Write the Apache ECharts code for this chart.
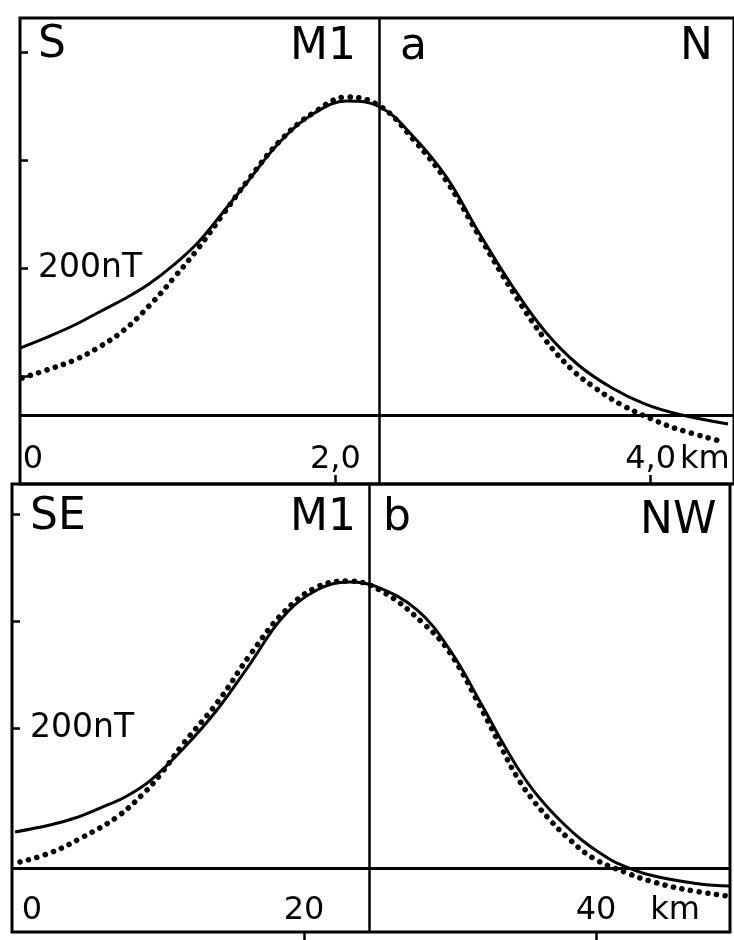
<!DOCTYPE html>
<html>
<head>
<meta charset="utf-8">
<script src="https://cdn.jsdelivr.net/npm/echarts@6/dist/echarts.min.js"></script>
<style>html,body{margin:0;padding:0;background:#fff}#c{width:734px;height:940px}</style>
</head>
<body>
<div id="c"></div>
<script>
// ---------- Panel a (S - N) ----------
const kmSolidA = [0.0, 1.89, 3.46, 5.03, 6.6, 8.18, 9.75, 11.32, 12.89, 14.47, 16.54, 18.68, 20.75, 22.83, 24.97, 27.04, 29.12, 31.26, 33.33, 35.41, 37.55, 39.62, 41.7, 44.9];
const nTSolidA = [125.9, 137, 147.2, 159.3, 171.3, 185.2, 202.8, 224.1, 251.9, 280.6, 317.6, 343.5, 354.6, 349.1, 321.3, 284.3, 232.4, 182.4, 140.7, 110.2, 88.9, 74.1, 64.8, 55.6];
const kmDotA = [0.13, 1.89, 3.46, 5.03, 6.6, 8.18, 9.75, 11.32, 12.89, 14.47, 16.54, 18.68, 20.75, 22.83, 24.97, 27.04, 29.12, 31.26, 33.33, 35.03, 36.48, 38.18, 40.06, 41.7, 44.65];
const nTDotA = [98.1, 106.5, 114.8, 126.9, 142.6, 164.8, 190.7, 218.5, 250, 281.5, 318.5, 344.4, 358.3, 350, 318.5, 280.6, 229.6, 177.8, 133.3, 105.6, 88.9, 73.1, 60.2, 50.9, 38.9];
const baseA = 64;        // horizontal reference line (nT)
const dividerA = 22.8;   // vertical line (km)
const yTicksA = [100, 200, 300, 400];
const xTicksA = [20, 40];
const xTickLabelsA = ['0', '2,0', '4,0'];

// ---------- Panel b (SE - NW) ----------
const kmSolidB = [0.21, 2.6, 4.32, 6.03, 7.74, 9.45, 11.71, 14.04, 16.3, 18.56, 20.89, 23.15, 25.0, 27.74, 30.0, 32.26, 33.42, 34.59, 35.68, 36.85, 38.01, 39.11, 40.27, 41.44, 43.7, 47.12, 49.15];
const nTSolidB = [102.8, 109.3, 115.9, 125.2, 135.5, 150.5, 180.4, 216.8, 259.8, 303.7, 329, 336.4, 331.8, 310.3, 272.9, 219.6, 190.7, 163.6, 142.1, 123.4, 107.5, 94.4, 83.2, 73.8, 62.6, 54.2, 52.3];
const kmDotB = [0.55, 2.6, 4.86, 7.19, 8.97, 10.14, 11.71, 14.04, 16.3, 18.56, 20.89, 23.15, 25.41, 28.15, 30.0, 32.26, 33.42, 34.59, 35.68, 36.85, 38.01, 39.79, 42.12, 43.7, 45.96, 48.97];
const nTDotB = [74.8, 83.2, 98.1, 116.8, 138.3, 156.1, 185, 223.4, 268.2, 307.5, 331.8, 337.4, 327.1, 298.1, 270.1, 215, 184.1, 154.2, 132.7, 114, 98.1, 78.5, 64.5, 57, 49.5, 43];
const baseB = 69;
const dividerB = 24.5;
const yTicksB = [200, 300, 400];
const xTicksB = [20, 40];
const xTickLabelsB = ['0', '20', '40'];

const yLabelText = '200nT';
const unitText = 'km';
const panelLabelsA = ['S', 'M1', 'a', 'N'];
const panelLabelsB = ['SE', 'M1', 'b', 'NW'];

const zip = (xs, ys) => xs.map((x, i) => [x, ys[i]]);
const FONT = '"DejaVu Sans", "Liberation Sans", sans-serif';

function xLabelFmt(ticks, labels) {
  return function (v) {
    const i = [0].concat(ticks).indexOf(v);
    const t = labels[i];
    return v === 0 ? '{z|' + t + '}' : t;
  };
}

const solidStyle = { color: '#000', width: 3 };
const dotStyle = { color: '#000', width: 5.5, type: [0.1, 8.6], cap: 'round' };
const mlStyle = { color: '#000', width: 3, type: 'solid' };

const chart = echarts.init(document.getElementById('c'), null, { renderer: 'canvas' });
chart.setOption({
  animation: false,
  backgroundColor: '#fff',
  grid: [
    { left: 20, top: 18, width: 720, height: 466, show: true, borderColor: '#000', borderWidth: 3, containLabel: false },
    { left: 12, top: 484, width: 718, height: 448, show: true, borderColor: '#000', borderWidth: 3, containLabel: false }
  ],
  xAxis: [
    {
      gridIndex: 0, type: 'value', min: 0, max: 720 / 15.9,
      axisLine: { show: false }, splitLine: { show: false },
      axisTick: { show: true, inside: true, length: 9, customValues: xTicksA, lineStyle: { color: '#000', width: 2.5 } },
      axisLabel: {
        inside: true, margin: 8, customValues: [0].concat(xTicksA), formatter: xLabelFmt(xTicksA, xTickLabelsA),
        color: '#000', fontSize: 32, fontFamily: FONT,
        rich: { z: { fontSize: 32, fontFamily: FONT, color: '#000', padding: [0, 0, 0, 26] } }
      },
      name: unitText, nameLocation: 'end', nameGap: -8,
      nameTextStyle: { color: '#000', fontSize: 32, fontFamily: FONT, align: 'right', verticalAlign: 'bottom', padding: [0, 0, 8, 0] }
    },
    {
      gridIndex: 1, type: 'value', min: 0, max: 718 / 14.6,
      axisLine: { show: false }, splitLine: { show: false },
      axisTick: { show: true, inside: false, length: 9, customValues: xTicksB, lineStyle: { color: '#000', width: 2.5 } },
      axisLabel: {
        inside: true, margin: 5, customValues: [0].concat(xTicksB), formatter: xLabelFmt(xTicksB, xTickLabelsB),
        color: '#000', fontSize: 32, fontFamily: FONT,
        rich: { z: { fontSize: 32, fontFamily: FONT, color: '#000', padding: [0, 0, 0, 40] } }
      },
      name: unitText, nameLocation: 'end', nameGap: -30,
      nameTextStyle: { color: '#000', fontSize: 32, fontFamily: FONT, align: 'right', verticalAlign: 'bottom', padding: [0, 0, 5, 0] }
    }
  ],
  yAxis: [
    {
      gridIndex: 0, type: 'value', min: 0, max: 466 / 1.08,
      axisLine: { show: false }, splitLine: { show: false },
      axisTick: { show: true, inside: true, length: 8, customValues: yTicksA, lineStyle: { color: '#000', width: 2.5 } },
      axisLabel: { inside: true, margin: 18, customValues: [200], formatter: () => yLabelText, color: '#000', fontSize: 33, fontFamily: FONT }
    },
    {
      gridIndex: 1, type: 'value', min: 200 - 204 / 1.07, max: 200 + 244 / 1.07,
      axisLine: { show: false }, splitLine: { show: false },
      axisTick: { show: true, inside: true, length: 8, customValues: yTicksB, lineStyle: { color: '#000', width: 2.5 } },
      axisLabel: { inside: true, margin: 18, customValues: [200], formatter: () => yLabelText, color: '#000', fontSize: 33, fontFamily: FONT }
    }
  ],
  series: [
    {
      type: 'line', xAxisIndex: 0, yAxisIndex: 0, data: zip(kmSolidA, nTSolidA), smooth: 0.4,
      showSymbol: false, lineStyle: solidStyle, silent: true,
      markLine: { silent: true, symbol: 'none', label: { show: false }, lineStyle: mlStyle,
        data: [{ yAxis: baseA }, { xAxis: dividerA, lineStyle: { width: 2.5 } }] }
    },
    {
      type: 'line', xAxisIndex: 0, yAxisIndex: 0, data: zip(kmDotA, nTDotA), smooth: 0.4,
      showSymbol: false, lineStyle: dotStyle, silent: true
    },
    {
      type: 'line', xAxisIndex: 1, yAxisIndex: 1, data: zip(kmSolidB, nTSolidB), smooth: 0.4,
      showSymbol: false, lineStyle: solidStyle, silent: true,
      markLine: { silent: true, symbol: 'none', label: { show: false }, lineStyle: mlStyle,
        data: [{ yAxis: baseB }, { xAxis: dividerB, lineStyle: { width: 2.5 } }] }
    },
    {
      type: 'line', xAxisIndex: 1, yAxisIndex: 1, data: zip(kmDotB, nTDotB), smooth: 0.4,
      showSymbol: false, lineStyle: dotStyle, silent: true
    }
  ],
  graphic: [
    { type: 'text', x: 38, y: 46, style: { text: panelLabelsA[0], font: '44px ' + FONT, fill: '#000', textVerticalAlign: 'middle' } },
    { type: 'text', x: 290, y: 48, style: { text: panelLabelsA[1], font: '44px ' + FONT, fill: '#000', textVerticalAlign: 'middle' } },
    { type: 'text', x: 400, y: 48, style: { text: panelLabelsA[2], font: '44px ' + FONT, fill: '#000', textVerticalAlign: 'middle' } },
    { type: 'text', x: 680, y: 48, style: { text: panelLabelsA[3], font: '44px ' + FONT, fill: '#000', textVerticalAlign: 'middle' } },
    { type: 'text', x: 30, y: 518, style: { text: panelLabelsB[0], font: '44px ' + FONT, fill: '#000', textVerticalAlign: 'middle' } },
    { type: 'text', x: 290, y: 519, style: { text: panelLabelsB[1], font: '44px ' + FONT, fill: '#000', textVerticalAlign: 'middle' } },
    { type: 'text', x: 383, y: 519, style: { text: panelLabelsB[2], font: '44px ' + FONT, fill: '#000', textVerticalAlign: 'middle' } },
    { type: 'text', x: 640, y: 522, style: { text: panelLabelsB[3], font: '44px ' + FONT, fill: '#000', textVerticalAlign: 'middle' } }
  ]
});
</script>
</body>
</html>
